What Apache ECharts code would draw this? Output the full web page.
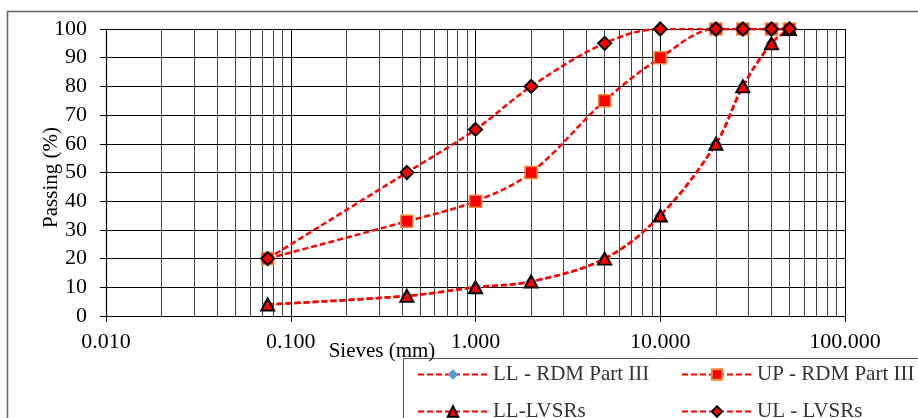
<!DOCTYPE html>
<html lang="en">
<head>
    <meta charset="UTF-8">
    <title>Grading envelopes</title>
    <style>
        html, body { margin: 0; padding: 0; background: #fff; }
    </style>
    <script src="https://cdn.jsdelivr.net/npm/echarts@6/dist/echarts.min.js"></script>
</head>
<body>
    <div id="main" style="width:918px;height:418px"></div>
    <script>
        // sieve sizes (mm) and percent passing
        var sieves = [0.075, 0.425, 1, 2, 5, 10, 20, 28, 40, 50];
        var llRdm = [4, 7, 10, 12, 20, 35, 60, 80, 95, 100];
        var upRdm = [20, 33, 40, 50, 75, 90, 100, 100, 100, 100];
        var llLvsr = [4, 7, 10, 12, 20, 35, 60, 80, 95, 100];
        var ulLvsr = [20, 50, 65, 80, 95, 100, 100, 100, 100, 100];
        var minorGrid = [0.02, 0.03, 0.04, 0.05, 0.06, 0.07, 0.08, 0.09,
                         0.2, 0.3, 0.4, 0.5, 0.6, 0.7, 0.8, 0.9,
                         2, 3, 4, 5, 6, 7, 8, 9,
                         20, 30, 40, 50, 60, 70, 80, 90];

        function pairs(vals) {
            var out = [];
            for (var i = 0; i < sieves.length; i++) out.push([sieves[i], vals[i]]);
            return out;
        }

        var font = 'Liberation Serif';
        var dash = { color: '#ff0000', width: 2.5, type: [6, 3] };
        var legendText = { fontFamily: font, fontSize: 21, color: '#333' };

        var myChart = echarts.init(document.getElementById('main'));
        var option = {
            animation: false,
            textStyle: { fontFamily: font },
            grid: { left: 106, right: 73, top: 29, bottom: 102 },
            graphic: [
                { type: 'rect', shape: { x: 7.5, y: 11.5, width: 930, height: 430 },
                  style: { fill: 'none', stroke: '#666', lineWidth: 1.5 }, silent: true },
                { type: 'rect', shape: { x: 403.5, y: 358.5, width: 530, height: 80 },
                  style: { fill: 'none', stroke: '#555', lineWidth: 1 }, silent: true, z: 10 }
            ],
            legend: [
                {
                    orient: 'vertical', left: 417, top: 364, height: 80, padding: 0, z: 20,
                    itemWidth: 70, itemHeight: 13, itemGap: 16,
                    textStyle: legendText,
                    data: ['LL - RDM Part III', 'LL-LVSRs']
                },
                {
                    orient: 'vertical', left: 681, top: 364, height: 80, padding: 0, z: 20,
                    itemWidth: 70, itemHeight: 13, itemGap: 16,
                    textStyle: legendText,
                    data: ['UP - RDM Part III', 'UL - LVSRs']
                }
            ],
            xAxis: {
                type: 'log', logBase: 10, min: 0.01, max: 100,
                name: 'Sieves (mm)', nameLocation: 'middle', nameGap: 25, nameMoveOverlap: false,
                nameTextStyle: { fontFamily: font, fontSize: 21, color: '#000', padding: [0, 187, 0, 0] },
                axisLine: { show: true, lineStyle: { color: '#000', width: 1.2 } },
                axisTick: { show: true, length: 6, lineStyle: { color: '#000' } },
                axisLabel: {
                    margin: 15, fontFamily: font, fontSize: 22, color: '#000',
                    formatter: function (v) { return v.toFixed(3); }
                },
                splitLine: { show: true, lineStyle: { color: '#000', width: 1 } },
                minorTick: { show: false }, minorSplitLine: { show: false }
            },
            yAxis: {
                type: 'value', min: 0, max: 100, interval: 10,
                name: 'Passing (%)', nameLocation: 'middle', nameGap: 44, nameRotate: 90, nameMoveOverlap: false,
                nameTextStyle: { fontFamily: font, fontSize: 21, color: '#000', padding: [0, 10, 0, 0] },
                axisLine: { show: true, lineStyle: { color: '#000', width: 1.2 } },
                axisTick: { show: true, length: 6, lineStyle: { color: '#000' } },
                axisLabel: { margin: 19, fontFamily: font, fontSize: 22, color: '#000' },
                splitLine: { show: true, lineStyle: { color: '#000', width: 1 } }
            },
            series: [
                {
                    name: 'minor grid', type: 'line', data: [], silent: true, z: 1,
                    markLine: {
                        silent: true, symbol: 'none', z: 1, animation: false,
                        label: { show: false },
                        lineStyle: { color: '#444', type: 'solid', width: 1 },
                        data: minorGrid.map(function (v) { return { xAxis: v }; })
                    }
                },
                {
                    name: 'LL - RDM Part III', type: 'line', smooth: 0.35, z: 2,
                    data: pairs(llRdm), symbol: 'diamond', symbolSize: 12,
                    lineStyle: dash,
                    itemStyle: { color: '#5b9bd5', borderColor: '#5b9bd5', borderWidth: 0 }
                },
                {
                    name: 'UP - RDM Part III', type: 'line', smooth: 0.35, z: 3,
                    data: pairs(upRdm), symbol: 'rect', symbolSize: 12,
                    lineStyle: dash,
                    itemStyle: { color: '#ff0000', borderColor: '#f0883a', borderWidth: 1.5 }
                },
                {
                    name: 'LL-LVSRs', type: 'line', smooth: 0.35, z: 4,
                    data: pairs(llLvsr), symbol: 'triangle', symbolSize: [13, 12],
                    lineStyle: dash,
                    itemStyle: { color: '#ff0000', borderColor: '#000', borderWidth: 2 }
                },
                {
                    name: 'UL - LVSRs', type: 'line', smooth: 0.35, z: 5,
                    data: pairs(ulLvsr), symbol: 'diamond', symbolSize: 13,
                    lineStyle: dash,
                    itemStyle: { color: '#ff0000', borderColor: '#000', borderWidth: 2 }
                }
            ]
        };
        myChart.setOption(option);
    </script>
</body>
</html>
